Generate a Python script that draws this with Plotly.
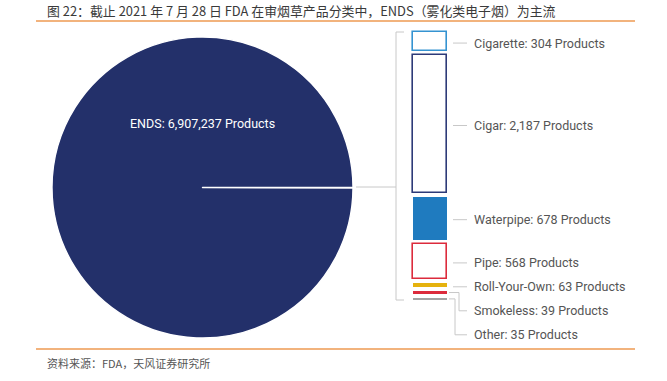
import plotly.graph_objects as go

# ---------------- data ----------------
categories = ["Cigarette", "Cigar", "Waterpipe", "Pipe", "Roll-Your-Own", "Smokeless", "Other"]
counts = [304, 2187, 678, 568, 63, 39, 35]
ends_label = "ENDS"
ends_count = 6907237
others_label = "Others"

title_text = "图 22：截止 2021 年 7 月 28 日 FDA 在审烟草产品分类中，ENDS（雾化类电子烟）为主流"
source_text = "资料来源：FDA，天风证券研究所"

# ---------------- style ----------------
W, H = 667, 381
fill_colors = ["#ffffff", "#ffffff", "#1f7bbf", "#ffffff", "#e5b20e", "#dc2b3c", "#a3a3a3"]
line_colors = ["#3593d1", "#2d3a78", "#1f7bbf", "#dc2b3c", "#e5b20e", "#dc2b3c", "#a3a3a3"]
line_widths = [1.6, 1.6, 0, 1.6, 0, 0, 0]
navy = "#23306a"
gray_line = "#c8c8c8"
label_color = "#555555"
label_font = "Roboto, sans-serif"
label_size = 12.5
cjk_font = "Noto Sans CJK SC"

GAP = 64  # spacing between stacked segments (axis units)

def px(x):
    return x / W

def py(y):
    return 1 - y / H

# bases of segments
bases = []
b = 0
for v in counts:
    bases.append(b)
    b += v + GAP
total = b - GAP

bar_left_px, bar_right_px = 413, 447
bar_top_px, bar_bot_px = 32, 300
scale = (bar_bot_px - bar_top_px) / total  # px per unit
pad_top_px = 6
pad_bot_px = 48  # room for the lower labels / elbows
xunit = bar_right_px - bar_left_px  # px per x unit
pad_x_px = 6
xhalf = (xunit / 2 + pad_x_px) / xunit

fig = go.Figure()

# pie
fig.add_trace(go.Pie(
    labels=[others_label, ends_label],
    values=[sum(counts), ends_count],
    sort=False,
    direction="clockwise",
    rotation=90,
    marker=dict(colors=["#ffffff", navy], line=dict(color="#ffffff", width=1.4)),
    textinfo="none",
    hoverinfo="label+value",
    showlegend=False,
    domain=dict(x=[px(52), px(353)], y=[py(338), py(37)]),
))

# stacked bar
for cat, v, base, fc, lc, lw in zip(categories, counts, bases, fill_colors, line_colors, line_widths):
    fig.add_trace(go.Bar(
        x=[0], y=[v], base=[base], width=[1],
        marker=dict(color=fc, line=dict(color=lc, width=lw)),
        name=cat, showlegend=False, xaxis="x", yaxis="y",
    ))

shapes = []
annotations = []

# labels
centers = [base + v / 2 for base, v in zip(bases, counts)]
label_step = 24 / scale
label_y = []
for i, c in enumerate(centers):
    if i <= 4:
        label_y.append(c + 1.5 / scale)
    else:
        label_y.append(centers[4] + 1.5 / scale + (i - 4) * label_step)

for i, (cat, v) in enumerate(zip(categories, counts)):
    annotations.append(dict(
        x=px(472), xref="paper", y=label_y[i], yref="y",
        text=f"{cat}: {v:,} Products", showarrow=False,
        xanchor="left", yanchor="middle",
        font=dict(family=label_font, size=label_size, color=label_color),
    ))

ln = dict(color=gray_line, width=1)
for i in range(5):
    shapes.append(dict(type="line", xref="paper", yref="y",
                       x0=px(453), x1=px(467), y0=label_y[i], y1=label_y[i], line=ln))
# elbows for the last two
elbow_x = {5: 459, 6: 455}
for i in (5, 6):
    ys = centers[i]
    ex = elbow_x[i]
    shapes.append(dict(type="line", xref="paper", yref="y",
                       x0=px(449), x1=px(ex), y0=ys, y1=ys, line=ln))
    shapes.append(dict(type="line", xref="paper", yref="y",
                       x0=px(ex), x1=px(ex), y0=ys, y1=label_y[i], line=ln))
    shapes.append(dict(type="line", xref="paper", yref="y",
                       x0=px(ex), x1=px(467), y0=label_y[i], y1=label_y[i], line=ln))

# bracket
shapes.append(dict(type="line", xref="paper", yref="y", x0=px(396), x1=px(396), y0=0, y1=total, line=ln))
shapes.append(dict(type="line", xref="paper", yref="y", x0=px(396), x1=px(404), y0=0, y1=0, line=ln))
shapes.append(dict(type="line", xref="paper", yref="y", x0=px(396), x1=px(404), y0=total, y1=total, line=ln))
# pie leader
shapes.append(dict(type="line", xref="paper", yref="paper", x0=px(356), x1=px(396), y0=py(187), y1=py(187), line=ln))

# orange rules
orange = "#ee9a52"
shapes.append(dict(type="line", xref="paper", yref="paper", x0=px(36), x1=px(635), y0=py(21), y1=py(21),
                   line=dict(color=orange, width=1.3)))
shapes.append(dict(type="line", xref="paper", yref="paper", x0=px(36), x1=px(635), y0=py(349), y1=py(349),
                   line=dict(color=orange, width=1.3)))

# ENDS label in pie
annotations.append(dict(
    x=px(202), xref="paper", y=py(123), yref="paper",
    text=f"{ends_label}: {ends_count:,} Products", showarrow=False,
    xanchor="center", yanchor="middle",
    font=dict(family=label_font, size=label_size, color="#ffffff"),
))

# title & source
annotations.append(dict(
    x=px(45), xref="paper", y=py(10), yref="paper", text=title_text, showarrow=False,
    xanchor="left", yanchor="middle", font=dict(family=cjk_font, size=12.9, color="#3a3a3a"),
))
annotations.append(dict(
    x=px(45), xref="paper", y=py(363), yref="paper", text=source_text, showarrow=False,
    xanchor="left", yanchor="middle", font=dict(family=cjk_font, size=11, color="#555555"),
))

fig.update_layout(
    width=W, height=H,
    margin=dict(l=0, r=0, t=0, b=0),
    paper_bgcolor="#ffffff", plot_bgcolor="rgba(0,0,0,0)",
    barmode="overlay", bargap=0,
    xaxis=dict(domain=[px(bar_left_px - pad_x_px), px(bar_right_px + pad_x_px)],
               range=[-xhalf, xhalf], visible=False, fixedrange=True),
    yaxis=dict(domain=[py(bar_bot_px + pad_bot_px), py(bar_top_px - pad_top_px)],
               range=[total + pad_bot_px / scale, -pad_top_px / scale], visible=False, fixedrange=True),
    shapes=shapes, annotations=annotations,
)

fig.write_html("out.html", config={"displayModeBar": False},
               post_script="document.body.style.margin='0px';document.body.style.padding='0px';")
